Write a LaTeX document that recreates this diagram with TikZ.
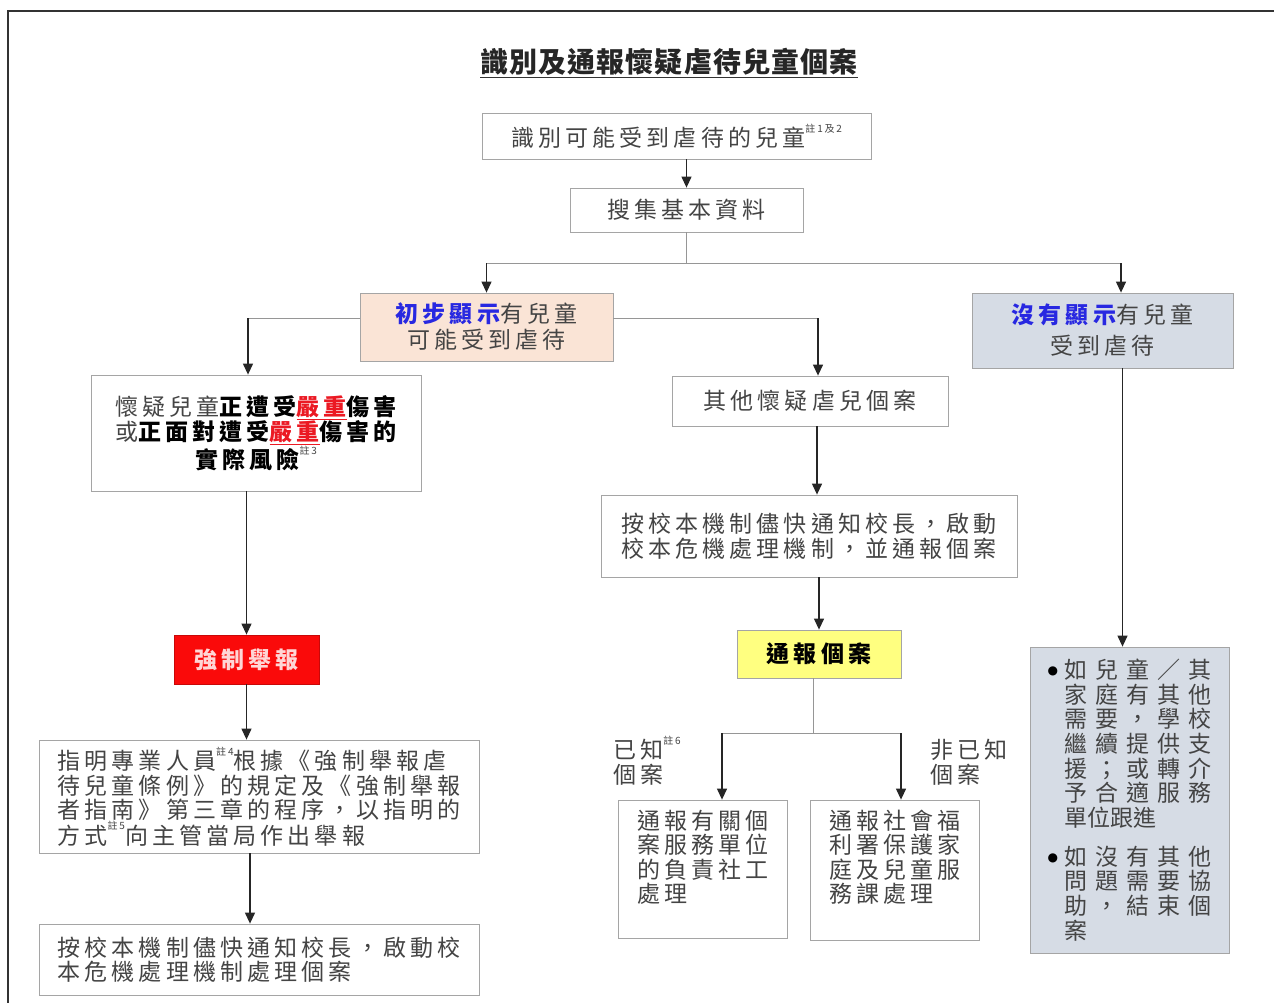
\documentclass[tikz,border=0pt]{standalone}
\usepackage{fontspec}
\setmainfont{Noto Sans CJK TC}[LetterSpace=18]
\newfontfamily\cjkn{Noto Sans CJK TC}
\newfontfamily\cjkt{Noto Sans CJK TC}[LetterSpace=4]
\newfontfamily\dvs{DejaVu Sans}
\usetikzlibrary{arrows.meta}
\definecolor{txtgray}{RGB}{68,68,68}
\definecolor{edgegray}{RGB}{165,165,165}
\definecolor{linegray}{RGB}{150,150,150}
\definecolor{peach}{RGB}{250,228,214}
\definecolor{bluegray}{RGB}{214,220,229}
\definecolor{boxred}{RGB}{250,10,10}
\definecolor{pinktxt}{RGB}{255,214,214}
\definecolor{yel}{RGB}{255,255,128}
\definecolor{bluetxt}{RGB}{40,40,225}
\definecolor{redtxt}{RGB}{235,25,35}
\newcommand{\nt}[1]{\raisebox{0.62em}{\fontsize{10}{10}\selectfont #1}}
\newcommand{\jl}[5]{\leavevmode\hbox to 147pt{#1\hfil#2\hfil#3\hfil#4\hfil#5}}
\newcommand{\hv}[1]{{\bfseries\color{black}#1}}
\newcommand{\sev}[1]{{\bfseries\color{redtxt}\underline{#1}}}
\newcommand{\blt}{\makebox[17pt][l]{\raisebox{4pt}{\color{black}\dvs\fontsize{12}{12}\selectfont ●}}}
\tikzset{
  box/.style={draw=edgegray, line width=0.8pt, fill=white, inner sep=0pt, align=center,
    font=\fontsize{23}{25}\selectfont, text=txtgray},
  arr/.style={draw=black!85, line width=1.2pt, -{Triangle[width=10pt,length=11pt]}},
  thin/.style={draw=linegray, line width=0.8pt},
  lbl/.style={inner sep=0pt, align=left, font=\fontsize{23}{25}\selectfont, text=txtgray},
}
\begin{document}
\begin{tikzpicture}[x=1pt,y=-1pt]
\useasboundingbox (0,0) rectangle (1274,1003);
\fill[white] (0,0) rectangle (1274,1003);
\draw[black!80, line width=1.2pt] (8,1003) -- (8,11) -- (1274,11);

% title
\node[inner sep=0pt, font=\cjkt\bfseries\fontsize{28}{30}\selectfont, text=black!85] (title) at (669,62) {識別及通報懷疑虐待兒童個案};
\draw[black!80, line width=1.6pt] ([yshift=-5pt]title.base west) -- ([yshift=-5pt]title.base east);

% boxes
\node[box, minimum width=389pt, minimum height=46pt] (b1) at (676.5,136) {識別可能受到虐待的兒童\nt{註1及2}};
\node[box, minimum width=233pt, minimum height=44pt] (b2) at (686.5,210) {搜集基本資料};
\node[box, fill=peach, minimum width=253pt, minimum height=68pt] (b3) at (486.5,327) {{\bfseries\color{bluetxt}初步顯示}有兒童\\[1pt]可能受到虐待};
\node[box, fill=bluegray, minimum width=261pt, minimum height=75pt] (b4) at (1102.5,330.5) {{\bfseries\color{bluetxt}沒有顯示}有兒童\\[6pt]受到虐待};
\node[box, minimum width=330pt, minimum height=116pt] (b5) at (256,433) {懷疑兒童\hv{正遭受}\sev{嚴重}\hv{傷害}\\或\hv{正面對遭受}\sev{嚴重}\hv{傷害的}\\\hv{實際風險}\nt{註3}};
\node[box, minimum width=276pt, minimum height=50pt] (b6) at (810,401) {其他懷疑虐兒個案};
\node[box, minimum width=416pt, minimum height=82pt] (b7) at (809,536) {按校本機制儘快通知校長，啟動\\校本危機處理機制，並通報個案};
\node[box, fill=yel, minimum width=164pt, minimum height=48pt, text=black, font=\bfseries\fontsize{23}{25}\selectfont] (b8) at (819,654) {通報個案};
\node[box, fill=bluegray, minimum width=199pt, minimum height=306pt] (b9) at (1129.5,800) {%
\begin{minipage}{164pt}\cjkn\fontsize{23}{24.7}\selectfont\raggedright
\blt\jl{如}{兒}{童}{／}{其}\par
\hspace*{17pt}\jl{家}{庭}{有}{其}{他}\par
\hspace*{17pt}\jl{需}{要}{，}{學}{校}\par
\hspace*{17pt}\jl{繼}{續}{提}{供}{支}\par
\hspace*{17pt}\jl{援}{；}{或}{轉}{介}\par
\hspace*{17pt}\jl{予}{合}{適}{服}{務}\par
\hspace*{17pt}單位跟進\par
\vspace{14pt}
\blt\jl{如}{沒}{有}{其}{他}\par
\hspace*{17pt}\jl{問}{題}{需}{要}{協}\par
\hspace*{17pt}\jl{助}{，}{結}{束}{個}\par
\hspace*{17pt}案\par
\end{minipage}};
\node[box, minimum width=169pt, minimum height=138pt] (b10) at (702.5,869) {%
\begin{minipage}[c][118pt][t]{131pt}\fontsize{23}{24.5}\selectfont\raggedright
通報有關個\\案服務單位\\的負責社工\\處理
\end{minipage}};
\node[box, minimum width=169pt, minimum height=140pt] (b11) at (894.5,870) {%
\begin{minipage}[c][120pt][t]{131pt}\fontsize{23}{24.5}\selectfont\raggedright
通報社會福\\利署保護家\\庭及兒童服\\務課處理
\end{minipage}};
\node[box, fill=boxred, draw=boxred!80!black, minimum width=145pt, minimum height=49pt, text=pinktxt, font=\bfseries\fontsize{23}{25}\selectfont] (b12) at (246.5,659.5) {強制舉報};
\node[box, align=left, minimum width=440pt, minimum height=113pt, font=\fontsize{23}{24.5}\selectfont] (b13) at (259,796.5) {指明專業人員\nt{註4}根據《強制舉報虐\\待兒童條例》的規定及《強制舉報\\者指南》第三章的程序，以指明的\\方式\nt{註5}向主管當局作出舉報};
\node[box, align=left, minimum width=440pt, minimum height=71pt, font=\fontsize{23}{24.5}\selectfont] (b14) at (259,959.5) {按校本機制儘快通知校長，啟動校\\本危機處理機制處理個案};

% labels
\node[lbl, anchor=west] (l1) at (613,761) {已知\nt{註6}\\個案};
\node[lbl, anchor=west] (l2) at (930,762) {非已知\\個案};

% junction coordinates
\coordinate (j1) at (686,263);
\coordinate (j1r) at (1121,263);
\coordinate (c3l) at (248,318);
\coordinate (c3r) at (818,318);
\coordinate (s1) at (722,733);
\coordinate (s2) at (901,733);

% connectors
\draw[arr] (b1.south -| b2.north) -- (b2.north);
\draw[thin] (b2.south) -- (b2.south |- j1);
\draw[thin] (b3.north |- j1) -- (j1r);
\draw[arr] (b3.north |- j1) -- (b3.north);
\draw[arr] (j1r) -- (j1r |- b4.north);
\draw[thin] ([yshift=9pt]b3.west) -- (c3l);
\draw[arr] (c3l) -- (c3l |- b5.north);
\draw[thin] ([yshift=9pt]b3.east) -- (c3r);
\draw[arr] (c3r) -- (c3r |- b6.north);
\draw[arr] ([xshift=7pt]b6.south) -- ([xshift=7pt]b6.south |- b7.north);
\draw[arr] (b7.south -| b8.north) -- (b8.north);
\draw[thin] ([xshift=-6pt]b8.south) -- ([xshift=-6pt]b8.south |- s1);
\draw[thin] (s1) -- (s2);
\draw[arr] (s1) -- (s1 |- b10.north);
\draw[arr] (s2) -- (s2 |- b11.north);
\draw[arr] (b5.south -| b12.north) -- (b12.north);
\draw[arr] (b12.south) -- (b12.south |- b13.north);
\draw[arr] ([xshift=-9pt]b13.south) -- ([xshift=-9pt]b13.south |- b14.north);
\draw[arr] ([xshift=20pt]b4.south) -- ([xshift=20pt]b4.south |- b9.north);
\end{tikzpicture}
\end{document}
